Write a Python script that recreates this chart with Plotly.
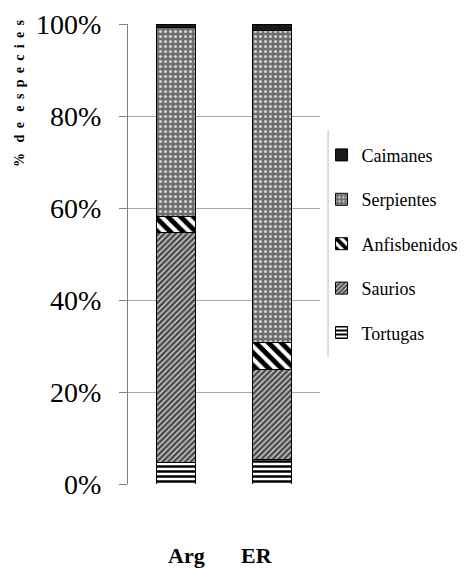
import plotly.graph_objects as go

categories = ["Arg", "ER"]
series_names = ["Tortugas", "Saurios", "Anfisbenidos", "Serpientes", "Caimanes"]
tortugas = [4.6, 5.4]
saurios = [50.0, 19.5]
anfisbenidos = [3.5, 5.8]
serpientes = [41.1, 67.8]
caimanes = [0.8, 1.5]
y_ticks = [0, 20, 40, 60, 80, 100]
y_tick_labels = ["0%", "20%", "40%", "60%", "80%", "100%"]

SERIF = "Liberation Serif"

values = [tortugas, saurios, anfisbenidos, serpientes, caimanes]
patterns = [
    dict(shape="-", bgcolor="white", fgcolor="black", size=5, solidity=0.5, fillmode="replace"),
    dict(shape="/", bgcolor="#4a4a4a", fgcolor="#d8d8d8", size=4, solidity=0.35, fillmode="replace"),
    dict(shape="\\", bgcolor="white", fgcolor="black", size=9, solidity=0.55, fillmode="replace"),
    dict(shape=".", bgcolor="#6e6e6e", fgcolor="#d0d0d0", size=5, solidity=0.3, fillmode="replace"),
    None,
]
colors = ["white", "#4a4a4a", "white", "#6e6e6e", "#1a1a1a"]

fig = go.Figure()
n = len(series_names)
for i, (name, vals, pat, col) in enumerate(zip(series_names, values, patterns, colors)):
    marker = dict(color=col, line=dict(color="black", width=1))
    if pat is not None:
        marker["pattern"] = pat
    fig.add_trace(go.Bar(
        x=categories, y=vals, name=name, marker=marker,
        legendgroup=name, legendrank=n - i, width=0.41,
    ))

fig.update_layout(
    barmode="stack",
    width=466, height=578,
    margin=dict(l=120, r=154, t=16, b=102, autoexpand=False),
    paper_bgcolor="white", plot_bgcolor="white",
    font=dict(family=SERIF, color="black"),
    showlegend=True,
    legend=dict(
        x=1.008, y=0.755, xanchor="left", yanchor="top",
        traceorder="grouped", tracegroupgap=18,
        font=dict(size=18, family=SERIF),
        bgcolor="rgba(0,0,0,0)",
    ),
    xaxis=dict(
        showgrid=False, showline=False, ticks="", showticklabels=False,
        automargin=False, range=[-0.5, 1.5],
    ),
    yaxis=dict(
        range=[0, 100], tickvals=y_ticks, ticktext=y_tick_labels,
        showgrid=True, gridcolor="#a8a8a8", gridwidth=1,
        showline=True, linecolor="#808080", linewidth=1,
        ticks="outside", ticklen=8, tickcolor="#808080",
        tickfont=dict(size=28, family=SERIF),
        ticklabelstandoff=12,
        zeroline=False, automargin=False,
    ),
)

label_shifts = [10, -15]
for cat, dx in zip(categories, label_shifts):
    fig.add_annotation(
        x=cat, xref="x", y=0, yref="paper", yshift=-71, xshift=dx,
        xanchor="center", yanchor="middle",
        text=cat, showarrow=False,
        font=dict(size=22, family=SERIF, weight="bold"),
    )

nb = "\u00a0\u2009"
title = "%" + "\u00a0\u00a0\u00a0" + nb.join(list("de")) + "\u00a0\u00a0\u00a0" + nb.join(list("especies"))
fig.add_annotation(
    xref="paper", yref="paper", x=-0.568, y=0.85,
    xanchor="center", yanchor="middle",
    text=title, textangle=-90, showarrow=False,
    font=dict(size=14, family=SERIF, weight="bold"),
)

fig.add_shape(
    type="line", xref="paper", yref="paper",
    x0=1.042, x1=1.042, y0=0.276, y1=0.77,
    line=dict(color="#c0c0c0", width=1),
)

fig.write_html("out.html")
